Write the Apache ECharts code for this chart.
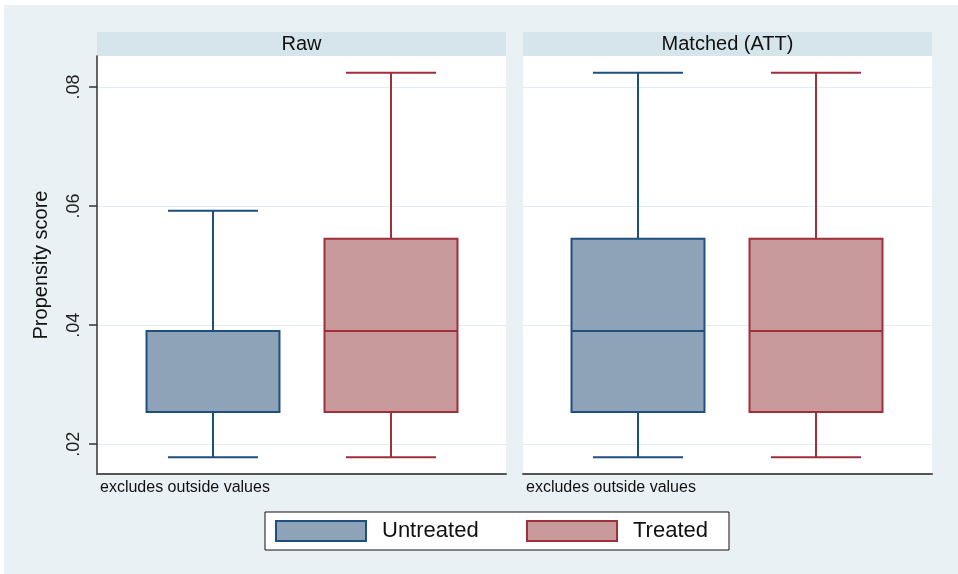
<!DOCTYPE html>
<html>
<head>
<meta charset="UTF-8" />
<title>Propensity score</title>
<style>
html, body { margin: 0; padding: 0; background: #ffffff; }
#chart { width: 958px; height: 574px; }
</style>
</head>
<body>
<div id="chart"></div>
<script src="https://cdn.jsdelivr.net/npm/echarts@6/dist/echarts.min.js"></script>
<script>
// groups on the x axis of each panel
var groups = ['Untreated', 'Treated'];
var panels = ['Raw', 'Matched (ATT)'];

// box stats: [min, q1, median, q3, max]
var rawUntreated = [0.0178, 0.0254, 0.0390, 0.0390, 0.0592];
var rawTreated   = [0.0178, 0.0254, 0.0390, 0.0545, 0.0824];
var attUntreated = [0.0178, 0.0254, 0.0390, 0.0545, 0.0824];
var attTreated   = [0.0178, 0.0254, 0.0390, 0.0545, 0.0824];

var yTicks = [0.02, 0.04, 0.06, 0.08];
var yTickLabels = ['.02', '.04', '.06', '.08'];
var yMin = 0.0150, yMax = 0.0852;
var note = 'excludes outside values';

var bg = '#e9f1f4', strip = '#d6e5eb', gridCol = '#e4eef2';
var uFill = '#8ea3b8', uLine = '#1f4f7f';
var tFill = '#c99a9c', tLine = '#9f2f3a';

// layout (pixels)
var plotTop = 56, plotH = 418;
var framesL = [97, 523], frameW = 409;
var dataL = [124, 549], dataW = 356;

var chart = echarts.init(document.getElementById('chart'));

function makeRender(fill, stroke) {
  return function (params, api) {
    var c = api.value(0);
    var band = api.size([1, 0])[0];
    var bw = band * 0.747, cw = band * 0.506;
    var pMin = api.coord([c, api.value(1)]);
    var pQ1 = api.coord([c, api.value(2)]);
    var pMed = api.coord([c, api.value(3)]);
    var pQ3 = api.coord([c, api.value(4)]);
    var pMax = api.coord([c, api.value(5)]);
    var x = pMin[0];
    var ls = { stroke: stroke, lineWidth: 2 };
    return {
      type: 'group',
      children: [
        { type: 'line', shape: { x1: x, y1: pMax[1], x2: x, y2: pQ3[1] }, style: ls },
        { type: 'line', shape: { x1: x, y1: pQ1[1], x2: x, y2: pMin[1] }, style: ls },
        { type: 'line', shape: { x1: x - cw / 2, y1: pMax[1], x2: x + cw / 2, y2: pMax[1] }, style: ls },
        { type: 'line', shape: { x1: x - cw / 2, y1: pMin[1], x2: x + cw / 2, y2: pMin[1] }, style: ls },
        { type: 'rect', shape: { x: x - bw / 2, y: pQ3[1], width: bw, height: pQ1[1] - pQ3[1] },
          style: { fill: fill, stroke: stroke, lineWidth: 2 } },
        { type: 'line', shape: { x1: x - bw / 2, y1: pMed[1], x2: x + bw / 2, y2: pMed[1] }, style: ls }
      ]
    };
  };
}

function boxSeries(name, gi, cat, stats, fill, stroke) {
  return {
    name: name,
    type: 'custom',
    xAxisIndex: gi,
    yAxisIndex: gi,
    renderItem: makeRender(fill, stroke),
    itemStyle: { color: fill, borderColor: stroke },
    encode: { x: 0, y: [1, 2, 3, 4, 5] },
    data: [[cat].concat(stats)],
    clip: false,
    silent: true,
    animation: false
  };
}

var tickFmt = function (v) {
  for (var i = 0; i < yTicks.length; i++) {
    if (Math.abs(v - yTicks[i]) < 1e-9) return yTickLabels[i];
  }
  return '';
};

var grids = [], xAxes = [], yAxes = [];
for (var p = 0; p < 2; p++) {
  // frame grid: background, gridlines, axis lines
  grids.push({ left: framesL[p], top: plotTop, width: frameW, height: plotH,
    show: true, backgroundColor: '#ffffff', borderWidth: 0 });
  xAxes.push({ type: 'value', gridIndex: p, min: 0, max: 1,
    axisLine: { show: true, onZero: false, lineStyle: { color: '#555555', width: 2 } },
    axisTick: { show: false }, axisLabel: { show: false }, splitLine: { show: false } });
  yAxes.push({ type: 'value', gridIndex: p, min: yMin, max: yMax,
    name: p === 0 ? 'Propensity score' : '',
    nameLocation: 'middle', nameGap: 46, nameRotate: 90,
    nameTextStyle: { fontSize: 20, color: '#111111', fontFamily: 'Liberation Sans' },
    axisLine: { show: p === 0, lineStyle: { color: '#333333', width: 1.5 } },
    axisTick: { show: p === 0, length: 8, customValues: yTicks, lineStyle: { color: '#333333', width: 1.5 } },
    axisLabel: { show: p === 0, customValues: yTicks, rotate: 90, margin: 14, fontSize: 18,
      color: '#222222', fontFamily: 'Liberation Sans', formatter: tickFmt },
    splitLine: { show: true, lineStyle: { color: gridCol, width: 1 } } });
}
for (var q = 0; q < 2; q++) {
  // data grid: places the two boxes of a panel
  grids.push({ left: dataL[q], top: plotTop, width: dataW, height: plotH });
  xAxes.push({ type: 'category', gridIndex: 2 + q, data: groups, show: false });
  yAxes.push({ type: 'value', gridIndex: 2 + q, min: yMin, max: yMax, show: false });
}

var graphics = [
  { type: 'rect', shape: { x: 0, y: 0, width: 958, height: 5 }, style: { fill: '#ffffff' }, z: 0 },
  { type: 'rect', shape: { x: 0, y: 0, width: 4, height: 574 }, style: { fill: '#ffffff' }, z: 0 }
];
for (var k = 0; k < 2; k++) {
  graphics.push({ type: 'rect', shape: { x: framesL[k], y: 32, width: frameW, height: 24 },
    style: { fill: strip } });
  graphics.push({ type: 'text', x: framesL[k] + frameW / 2, y: 44,
    style: { text: panels[k], fill: '#111111', fontSize: 20, fontFamily: 'Liberation Sans',
      textAlign: 'center', textVerticalAlign: 'middle' } });
  graphics.push({ type: 'text', x: framesL[k] + 3, y: 488,
    style: { text: note, fill: '#111111', fontSize: 16, fontFamily: 'Liberation Sans',
      textAlign: 'left', textVerticalAlign: 'middle' } });
}

var option = {
  backgroundColor: bg,
  animation: false,
  grid: grids,
  xAxis: xAxes,
  yAxis: yAxes,
  graphic: graphics,
  legend: {
    left: 265, top: 512,
    orient: 'horizontal',
    padding: [8, 14, 8, 10],
    itemWidth: 90, itemHeight: 20, itemGap: 40,
    backgroundColor: '#ffffff', borderColor: '#111111', borderWidth: 1,
    selectedMode: false,
    textStyle: { fontSize: 22, color: '#111111', fontFamily: 'Liberation Sans',
      padding: [0, 0, 0, 11], lineHeight: 20 },
    data: [
      { name: 'Untreated', icon: 'rect', itemStyle: { color: uFill, borderColor: uLine, borderWidth: 2 },
        textStyle: { width: 104 } },
      { name: 'Treated', icon: 'rect', itemStyle: { color: tFill, borderColor: tLine, borderWidth: 2 },
        textStyle: { width: 82 } }
    ]
  },
  series: [
    boxSeries('Untreated', 2, 0, rawUntreated, uFill, uLine),
    boxSeries('Treated', 2, 1, rawTreated, tFill, tLine),
    boxSeries('Untreated', 3, 0, attUntreated, uFill, uLine),
    boxSeries('Treated', 3, 1, attTreated, tFill, tLine)
  ]
};
chart.setOption(option);
</script>
</body>
</html>
